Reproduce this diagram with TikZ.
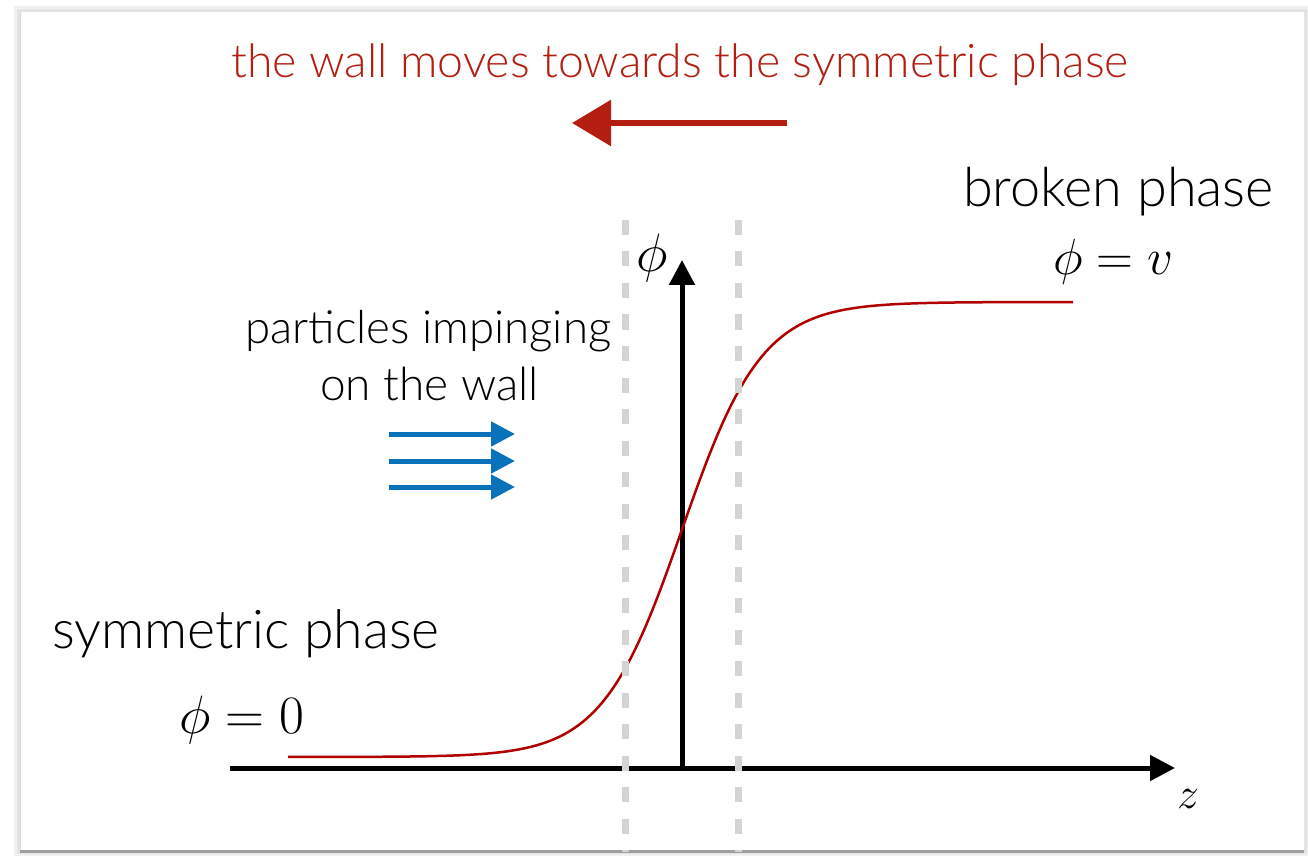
\documentclass[tikz,border=0pt]{standalone}
\usepackage{fix-cm}
\usepackage{fontspec}
\newfontfamily\gs{Lato Light}
\usetikzlibrary{arrows.meta}
\definecolor{wallred}{HTML}{B41E10}
\definecolor{curvered}{HTML}{B00000}
\definecolor{pblue}{HTML}{0A72BA}
\definecolor{dashgray}{HTML}{D4D4D4}
\newcommand\fs[1]{\fontsize{#1}{#1}\selectfont}
\tikzset{
  lbl/.style={inner sep=0pt, anchor=base west},
  mth/.style={inner sep=0pt, anchor=base west},
  axis/.style={line width=5pt, -{Triangle[length=25pt,width=25pt]}},
  guide/.style={line width=7pt, dashgray, dash pattern=on 15pt off 16.5pt},
  partarrow/.style={line width=5pt, pblue, -{Triangle[length=24pt,width=24pt]}},
}
\begin{document}
\begin{tikzpicture}[x=1pt,y=-1pt]
\useasboundingbox (0,0) rectangle (1308,858);
% panel with shadow
\fill[white] (0,0) rectangle (1308,858);
\fill[gray!12] (14,6) rectangle (1308,856);
\fill[gray!22] (17,9) rectangle (1307,854);
\fill[white] (20,12) rectangle (1304,850);
\draw[gray!75, line width=3.5pt] (20,851.5) -- (1304,851.5);
\draw[gray!30, line width=1pt] (20,12) -- (20,850);
% title and moving arrow
\node[lbl, anchor=base, text=wallred] (title) at (680,78) {\gs\fs{46.4}the wall moves towards the symmetric phase};
\coordinate (wa) at (787,123);
\coordinate (wb) at (572,123);
\draw[wallred, line width=6pt, -{Triangle[length=39pt,width=45pt]}] (wa) -- (wb);
% axes
\coordinate (o) at (230,768);
\coordinate (xe) at (1175,768);
\coordinate (yo) at (682,768);
\coordinate (ye) at (682,260);
\draw[axis] (o) -- (xe);
\draw[axis] (yo) -- (ye);
% curve
\draw[curvered, line width=2.5pt] plot[domain=288:1073, samples=200] ({\x},{529.5-227.5*tanh((\x-682)/80)});
% wall guides
\coordinate (g1a) at (625,220); \coordinate (g1b) at (625,852);
\coordinate (g2a) at (738,220); \coordinate (g2b) at (738,852);
\draw[guide] (g1a) -- (g1b);
\draw[guide] (g2a) -- (g2b);
% labels
\node[mth] (phiax) at (636,272) {\fs{54}$\phi$};
\node[mth] (zax) at (1177,808) {\fs{44}$z$};
\node[lbl] (broken) at (963,207) {\gs\fs{54}broken phase};
\node[mth] (phiv) at (1053,275) {\fs{51}$\phi=v$};
\node[lbl] (part1) at (245,343) {\gs\fs{45.6}particles impinging};
\node[lbl] (part2) at (320,400) {\gs\fs{46}on the wall};
\node[lbl] (sym) at (52,648) {\gs\fs{53.5}symmetric phase};
\node[mth] (phi0) at (179,733) {\fs{54}$\phi=0$};
% particle arrows
\coordinate (p1a) at (389,434); \coordinate (p1b) at (515,434);
\coordinate (p2a) at (389,461); \coordinate (p2b) at (515,461);
\coordinate (p3a) at (389,487); \coordinate (p3b) at (515,487);
\draw[partarrow] (p1a) -- (p1b);
\draw[partarrow] (p2a) -- (p2b);
\draw[partarrow] (p3a) -- (p3b);
\end{tikzpicture}
\end{document}
